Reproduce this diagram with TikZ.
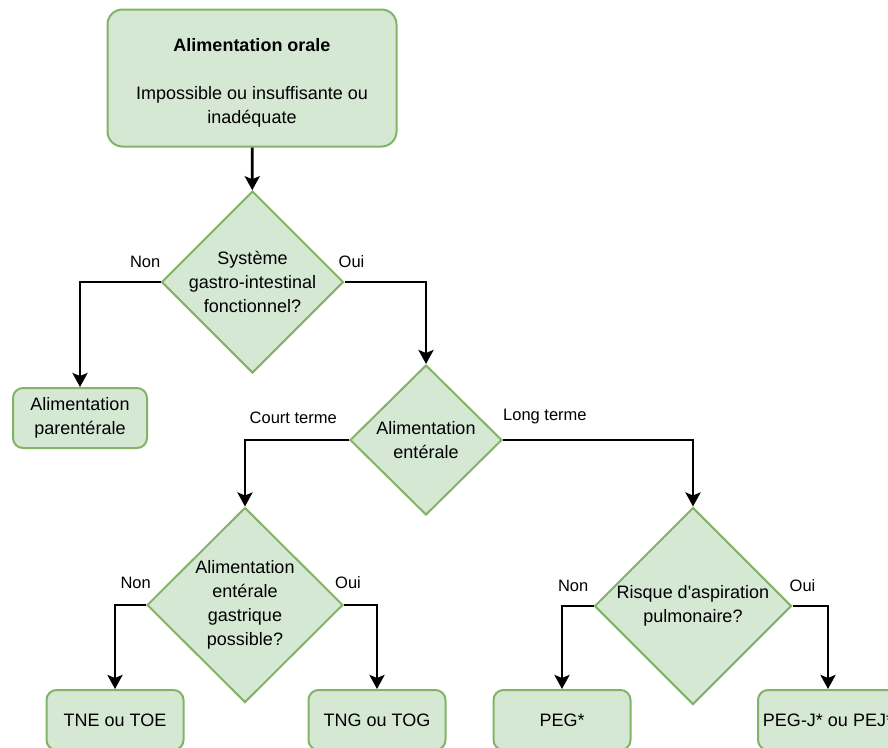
\documentclass[tikz,border=0pt]{standalone}
\usepackage{fontspec}
\setmainfont{Liberation Sans}
\usetikzlibrary{shapes.geometric,positioning,arrows.meta}

\definecolor{vfond}{RGB}{213,232,212}
\definecolor{vtrait}{RGB}{130,179,102}

\begin{document}
\begin{tikzpicture}[x=1pt,y=-1pt,
    boite/.style={draw=vtrait,fill=vfond,line width=2pt,rounded corners=10pt,
      align=center,inner sep=2pt,minimum width=137pt,minimum height=60pt,
      font=\fontsize{18}{24}\selectfont},
    losange/.style={diamond,draw=vtrait,fill=vfond,line width=2pt,align=center,
      inner sep=-14pt,font=\fontsize{18}{24}\selectfont},
    fleche/.style={line width=2.8pt,-{Stealth[length=14pt,width=15pt,inset=3pt]}},
    etiq/.style={inner sep=0pt,font=\fontsize{16.5}{20}\selectfont}]
      \clip (0,0) rectangle (888,747);

      \node[boite,minimum width=289pt,minimum height=137pt,rounded corners=15pt] (orale) at (252,78)
        {\rule{0pt}{23pt}\textbf{Alimentation orale}\\[24pt] Impossible ou insuffisante ou\\ inadéquate};

      \node[losange,minimum width=182pt,minimum height=182pt] (gi) at (252.5,282)
        {Système\\ gastro-intestinal\\ fonctionnel?};
      \node[boite,minimum width=134pt] (parent) at (80,418) {Alimentation\\ parentérale};

      \node[losange,minimum width=152pt,minimum height=150pt] (enter) at (426,440)
        {Alimentation\\ entérale};

      \node[losange,minimum width=196pt,minimum height=195pt] (gastr) at (245,605)
        {Alimentation\\ entérale\\ gastrique\\ possible?};
      \node[losange,minimum width=197pt,minimum height=197pt] (aspir) at (693,606)
        {Risque d\textquotesingle aspiration\\ pulmonaire?};

      \node[boite] (tne) at (115,720) {TNE ou TOE};
      \node[boite] (tng) at (377,720) {TNG ou TOG};
      \node[boite] (peg) at (562,720) {PEG*};
      \node[boite,minimum width=140pt] (pegj) at (828,720) {PEG-J* ou PEJ*};

      \draw[fleche] (orale) -- (gi);
      \draw[fleche] (gi.west) -| (parent.north);
      \draw[fleche] (gi.east) -| (enter.north);
      \draw[fleche] (enter.west) -| (gastr.north);
      \draw[fleche] (enter.east) -| (aspir.north);
      \draw[fleche] (gastr.west) -| (tne.north);
      \draw[fleche] (gastr.east) -| (tng.north);
      \draw[fleche] (aspir.west) -| (peg.north);
      \draw[fleche] (aspir.east) -| (pegj.north);

      \node[etiq,above left=14pt and 0pt of gi.west] (gi-non) {Non};
      \node[etiq,above right=14pt and -6pt of gi.east] (gi-oui) {Oui};
      \node[etiq,above left=16pt and 12pt of enter.west] (court) {Court terme};
      \node[etiq,above right=16pt and 0pt of enter.east] (long) {Long terme};
      \node[etiq,above left=16pt and -5pt of gastr.west] (gastr-non) {Non};
      \node[etiq,above right=16pt and -9pt of gastr.east] (gastr-oui) {Oui};
      \node[etiq,above left=14pt and 5pt of aspir.west] (aspir-non) {Non};
      \node[etiq,above right=14pt and -3pt of aspir.east] (aspir-oui) {Oui};
\end{tikzpicture}
\end{document}
